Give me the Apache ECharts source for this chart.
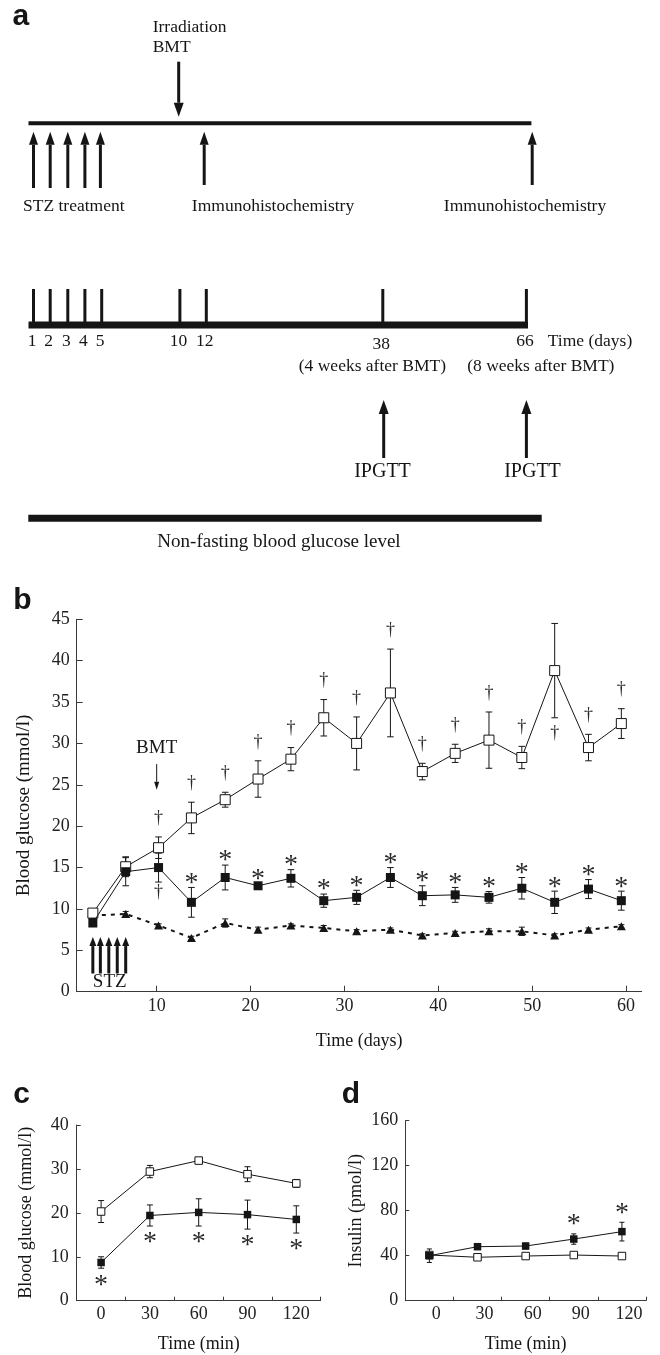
<!DOCTYPE html>
<html>
<head>
<meta charset="utf-8">
<script src="https://cdn.jsdelivr.net/npm/echarts@6/dist/echarts.min.js"></script>
<style>
html,body{margin:0;padding:0;background:#fff}
#main{width:660px;height:1355px}
</style>
</head>
<body>
<div id="main"></div>
<script>
// panel b - non-fasting blood glucose (mmol/l) vs day
var dayB = [3.2, 6.7, 10.2, 13.7, 17.3, 20.8, 24.3, 27.8, 31.3, 34.9, 38.3, 41.8, 45.4, 48.9, 52.4, 56.0, 59.5];
var openB = [9.5, 15.1, 17.4, 21.0, 23.2, 25.7, 28.1, 33.1, 30.0, 36.1, 26.6, 28.8, 30.4, 28.3, 38.8, 29.5, 32.4];
var openBErr = [0, 1.2, 1.3, 1.9, 0.9, 2.2, 1.4, 2.2, 3.2, 5.3, 1.0, 1.1, 3.4, 1.35, 5.7, 1.6, 1.8];
var fillB = [8.3, 14.5, 15.0, 10.8, 13.8, 12.8, 13.7, 11.0, 11.4, 13.8, 11.6, 11.7, 11.4, 12.5, 10.8, 12.4, 11.0];
var fillBErr = [0.3, 1.7, 1.75, 1.8, 1.5, 0.3, 1.05, 0.8, 0.85, 1.2, 1.2, 0.9, 0.7, 1.3, 1.35, 1.15, 1.15];
var ctrlB = [9.2, 9.4, 8.0, 6.5, 8.3, 7.5, 8.0, 7.7, 7.3, 7.5, 6.8, 7.1, 7.3, 7.3, 6.8, 7.5, 7.9];
var ctrlBErr = [0.2, 0.3, 0.2, 0.2, 0.5, 0.3, 0.2, 0.3, 0.2, 0.2, 0.2, 0.2, 0.3, 0.5, 0.2, 0.2, 0.2];
// 1 = sign above the error bar, -1 = below
var openBDagger = [0, 0, 1, 1, 1, 1, 1, 1, 1, 1, 1, 1, 1, 1, -1, 1, 1];
var fillBDagger = [0, 0, -1, 0, 0, 0, 0, 0, 0, 0, 0, 0, 0, 0, 0, 0, 0];
var fillBStar = [0, 0, 0, 1, 1, 1, 1, 1, 1, 1, 1, 1, 1, 1, 1, 1, 1];
var ticksB = [10, 20, 30, 40, 50, 60];
var bmtDay = 10;
var stzDays = [3.2, 4.0, 4.9, 5.8, 6.7];

// panel c - IPGTT blood glucose
var minC = [0, 30, 60, 90, 120];
var openC = [20.3, 29.4, 31.9, 28.8, 26.7];
var openCErr = [2.5, 1.4, 0.4, 1.7, 0.9];
var fillC = [8.7, 19.4, 20.1, 19.6, 18.5];
var fillCErr = [1.3, 2.4, 3.1, 3.3, 3.1];
var fillCStar = [-1, -1, -1, -1, -1];

// panel d - IPGTT insulin
var minD = [0, 30, 60, 90, 120];
var openD = [40.6, 38.6, 39.7, 40.6, 39.7];
var openDErr = [1.5, 1.0, 1.0, 1.5, 1.5];
var fillD = [40.0, 48.0, 48.6, 54.8, 61.4];
var fillDErr = [6.0, 2.5, 2.5, 4.6, 8.3];
var fillDStar = [0, 0, 0, 1, 1];

var labelsMin = [0, 30, 60, 90, 120];
var ticksMin = [15, 45, 75, 105, 135];

var ink = '#151515';
var axisInk = '#3a3a3a';
var serif = 'Liberation Serif';

function pts(xs, ys) {
    return xs.map(function (x, i) { return [x, ys[i]]; });
}

function errorBars(g, xs, ys, es, cap) {
    return {
        type: 'custom', xAxisIndex: g, yAxisIndex: g, silent: true, z: 1,
        data: xs.map(function (x, i) { return [x, ys[i] - es[i], ys[i] + es[i]]; }),
        renderItem: function (params, api) {
            var lo = api.coord([api.value(0), api.value(1)]);
            var hi = api.coord([api.value(0), api.value(2)]);
            var st = {stroke: ink, lineWidth: 1};
            return {type: 'group', children: [
                {type: 'line', shape: {x1: lo[0], y1: lo[1], x2: hi[0], y2: hi[1]}, style: st},
                {type: 'line', shape: {x1: lo[0] - cap, y1: lo[1], x2: lo[0] + cap, y2: lo[1]}, style: st},
                {type: 'line', shape: {x1: hi[0] - cap, y1: hi[1], x2: hi[0] + cap, y2: hi[1]}, style: st}
            ]};
        }
    };
}

// significance marks (* or dagger) placed off the end of an error bar
function signs(g, xs, ys, es, flags, ch, size, upGap, downGap) {
    var data = [];
    xs.forEach(function (x, i) {
        if (flags[i] > 0) data.push([x, ys[i] + es[i], -1]);
        if (flags[i] < 0) data.push([x, ys[i] - es[i], 1]);
    });
    return {
        type: 'custom', xAxisIndex: g, yAxisIndex: g, silent: true, z: 6,
        data: data,
        renderItem: function (params, api) {
            var p = api.coord([api.value(0), api.value(1)]);
            var dir = api.value(2);
            return {type: 'text', x: p[0], y: p[1] + (dir < 0 ? -upGap : downGap), style: {
                text: ch, font: size + 'px "' + serif + '"', fill: '#2a2a2a',
                align: 'center', verticalAlign: 'middle', textAlign: 'center', textVerticalAlign: 'middle'
            }};
        }
    };
}

function arrows(g, data, lw, hw, hh) {
    return {
        type: 'custom', xAxisIndex: g, yAxisIndex: g, silent: true, z: 6,
        data: data,
        renderItem: function (params, api) {
            var a = api.coord([api.value(0), api.value(1)]);
            var b = api.coord([api.value(0), api.value(2)]);
            var d = b[1] > a[1] ? 1 : -1;
            return {type: 'group', children: [
                {type: 'line', shape: {x1: a[0], y1: a[1], x2: b[0], y2: b[1] - d * hh}, style: {stroke: ink, lineWidth: lw}},
                {type: 'polygon', shape: {points: [[b[0], b[1]], [b[0] - hw / 2, b[1] - d * hh], [b[0] + hw / 2, b[1] - d * hh]]}, style: {fill: ink}}
            ]};
        }
    };
}

function notes(g, items, size) {
    return {
        type: 'custom', xAxisIndex: g, yAxisIndex: g, silent: true, z: 6,
        data: items.map(function (it) { return [it.x, it.y]; }),
        renderItem: function (params, api) {
            var p = api.coord([api.value(0), api.value(1)]);
            return {type: 'text', x: p[0], y: p[1], style: {
                text: items[params.dataIndex].text, font: size + 'px "' + serif + '"', fill: ink,
                align: 'center', verticalAlign: 'middle', textAlign: 'center', textVerticalAlign: 'middle'
            }};
        }
    };
}

function openLine(g, xs, ys, size, z) {
    return {type: 'line', xAxisIndex: g, yAxisIndex: g, data: pts(xs, ys), z: z, silent: true,
        symbol: 'rect', symbolSize: size,
        lineStyle: {color: ink, width: 1},
        itemStyle: {color: '#fff', borderColor: ink, borderWidth: 1}};
}

function fillLine(g, xs, ys, size, z) {
    return {type: 'line', xAxisIndex: g, yAxisIndex: g, data: pts(xs, ys), z: z, silent: true,
        symbol: 'rect', symbolSize: size,
        lineStyle: {color: ink, width: 1},
        itemStyle: {color: ink, borderWidth: 0}};
}

function valueAxis(g, min, max, interval, name, gap, nameSize, margin, tickLen) {
    return {
        gridIndex: g, type: 'value', min: min, max: max, interval: interval,
        name: name, nameLocation: 'middle', nameGap: gap,
        nameTextStyle: {fontFamily: serif, fontSize: nameSize, color: ink},
        axisLine: {show: true, onZero: false, lineStyle: {color: axisInk, width: 1}},
        axisTick: {show: true, inside: true, length: tickLen, lineStyle: {color: axisInk}},
        axisLabel: {fontFamily: serif, fontSize: 18, color: '#222', margin: margin},
        splitLine: {show: false}
    };
}

function timeAxis(g, min, max, labels, ticks, name, gap, margin, tickLen, pad) {
    return {
        gridIndex: g, type: 'value', min: min, max: max,
        name: name, nameLocation: 'middle', nameGap: gap,
        nameTextStyle: {fontFamily: serif, fontSize: 18, color: ink},
        axisLine: {show: true, onZero: false, lineStyle: {color: axisInk, width: 1}},
        axisTick: {show: true, inside: true, length: tickLen, customValues: ticks, lineStyle: {color: axisInk}},
        axisLabel: {fontFamily: serif, fontSize: 18, color: '#222', margin: margin, customValues: labels, padding: pad || 0},
        splitLine: {show: false}
    };
}

// ---------- panel a : study schedule (schematic, not to scale) ----------
function vline(x, y1, y2, w) {
    return {type: 'line', shape: {x1: x, y1: y1, x2: x, y2: y2}, style: {stroke: ink, lineWidth: w}};
}
function hline(x1, x2, y, w) {
    return {type: 'line', shape: {x1: x1, y1: y, x2: x2, y2: y}, style: {stroke: ink, lineWidth: w}};
}
function arrowEl(x, yTail, yTip, w, hw, hh) {
    var d = yTip > yTail ? 1 : -1;
    return [vline(x, yTail, yTip - d * hh, w),
        {type: 'polygon', shape: {points: [[x, yTip], [x - hw / 2, yTip - d * hh], [x + hw / 2, yTip - d * hh]]}, style: {fill: ink}}];
}
function txt(s, x, y, size, align, font) {
    return {type: 'text', x: x, y: y, style: {
        text: s, font: font || (size + 'px "' + serif + '"'), fill: ink,
        align: align || 'center', verticalAlign: 'middle', textAlign: align || 'center', textVerticalAlign: 'middle'
    }};
}

var schedDays = ['1', '2', '3', '4', '5', '10', '12', '38', '66'];
var schedX = [33.5, 50.2, 67.8, 84.9, 101.7, 179.9, 206.3, 382.8, 526.4];
var stzX = [33.5, 50.2, 67.8, 84.9, 100.4];

var panelA = [];
panelA.push(hline(28.5, 531.4, 123.3, 4));
panelA = panelA.concat(arrowEl(178.7, 61.7, 116.7, 3, 10, 14));
stzX.forEach(function (x) { panelA = panelA.concat(arrowEl(x, 188, 131.7, 3, 9, 13)); });
panelA = panelA.concat(arrowEl(204.2, 185, 131.7, 3, 9, 13));
panelA = panelA.concat(arrowEl(532.2, 185, 131.7, 3, 9, 13));
panelA.push(txt('Irradiation', 152.7, 27, 17.5, 'left'));
panelA.push(txt('BMT', 152.7, 47, 17.5, 'left'));
panelA.push(txt('STZ treatment', 23, 206, 17.5, 'left'));
panelA.push(txt('Immunohistochemistry', 273, 206, 17.5));
panelA.push(txt('Immunohistochemistry', 525, 206, 17.5));

panelA.push(hline(28.5, 528, 325, 7));
schedX.forEach(function (x, i) {
    panelA.push(vline(x, 289, 325, 3));
    panelA.push(txt(schedDays[i], x - 1.5, i === 7 ? 344 : 341.7, 17.5));
});
panelA.push(txt('Time (days)', 590, 341.7, 17.5));
panelA.push(txt('(4 weeks after BMT)', 372.4, 366.7, 17.5));
panelA.push(txt('(8 weeks after BMT)', 540.8, 366.7, 17.5));
panelA = panelA.concat(arrowEl(383.7, 458, 400, 3, 10, 14));
panelA = panelA.concat(arrowEl(526.4, 458, 400, 3, 10, 14));
panelA.push(txt('IPGTT', 382.5, 471.7, 20));
panelA.push(txt('IPGTT', 532.5, 471.7, 20));
panelA.push(hline(28.3, 541.7, 518.3, 7));
panelA.push(txt('Non-fasting blood glucose level', 279, 542.3, 19));

var bold = 'bold 30px "Liberation Sans"';
panelA.push(txt('a', 12.5, 16.5, 30, 'left', bold));
panelA.push(txt('b', 13.3, 601, 30, 'left', bold));
panelA.push(txt('c', 13.3, 1094.5, 30, 'left', bold));
panelA.push(txt('d', 341.7, 1094.5, 30, 'left', bold));

var chart = echarts.init(document.getElementById('main'));

var option = {
    animation: false,
    backgroundColor: '#fff',
    textStyle: {fontFamily: serif},
    graphic: {elements: panelA},
    grid: [
        {left: 76.7, top: 619.3, width: 565, height: 372.4, outerBoundsMode: 'none'},
        {left: 76.7, top: 1125, width: 244, height: 175.7, outerBoundsMode: 'none'},
        {left: 405.3, top: 1120.7, width: 240.7, height: 180, outerBoundsMode: 'none'}
    ],
    xAxis: [
        timeAxis(0, 1.48, 61.67, ticksB, ticksB, 'Time (days)', 41, 6, 6),
        timeAxis(1, -15, 135, labelsMin, ticksMin, 'Time (min)', 35, 5, 4),
        timeAxis(2, -15, 135, labelsMin, ticksMin, 'Time (min)', 35, 5, 4, [0, 0, 0, 14])
    ],
    yAxis: [
        valueAxis(0, 0, 45, 5, 'Blood glucose (mmol/l)', 43, 19, 7, 6),
        valueAxis(1, 0, 40, 10, 'Blood glucose (mmol/l)', 41, 18, 8, 4),
        valueAxis(2, 0, 160, 40, 'Insulin (pmol/l)', 40, 18, 7, 4)
    ],
    series: [
        // b
        errorBars(0, dayB, ctrlB, ctrlBErr, 3),
        errorBars(0, dayB, openB, openBErr, 3.3),
        errorBars(0, dayB, fillB, fillBErr, 3.3),
        {type: 'line', xAxisIndex: 0, yAxisIndex: 0, data: pts(dayB, ctrlB), z: 2, silent: true,
            symbol: 'triangle', symbolSize: [9, 8],
            lineStyle: {color: ink, width: 2, type: [4, 5]},
            itemStyle: {color: ink}},
        openLine(0, dayB, openB, 10, 3),
        fillLine(0, dayB, fillB, 9, 4),
        signs(0, dayB, openB, openBErr, openBDagger, '\u2020', 18, 19, 15),
        signs(0, dayB, fillB, fillBErr, fillBDagger, '\u2020', 18, 19, 10),
        signs(0, dayB, fillB, fillBErr, fillBStar, '*', 28, 4, 17),
        arrows(0, [[bmtDay, 27.5, 24.4]], 1, 5, 8),
        arrows(0, stzDays.map(function (d) { return [d, 2.2, 6.6]; }), 3, 7, 9),
        notes(0, [{x: bmtDay, y: 29.4, text: 'BMT'}, {x: 5.0, y: 1.15, text: 'STZ'}], 19),
        // c
        errorBars(1, minC, openC, openCErr, 3),
        errorBars(1, minC, fillC, fillCErr, 3),
        openLine(1, minC, openC, 7.5, 3),
        fillLine(1, minC, fillC, 7.5, 4),
        signs(1, minC, fillC, fillCErr, fillCStar, '*', 28, 9, 17),
        // d
        errorBars(2, minD, openD, openDErr, 2.5),
        errorBars(2, minD, fillD, fillDErr, 2.5),
        openLine(2, minD, openD, 7.5, 3),
        fillLine(2, minD, fillD, 7.5, 4),
        signs(2, minD, fillD, fillDErr, fillDStar, '*', 28, 9, 17)
    ]
};

chart.setOption(option);
</script>
</body>
</html>
